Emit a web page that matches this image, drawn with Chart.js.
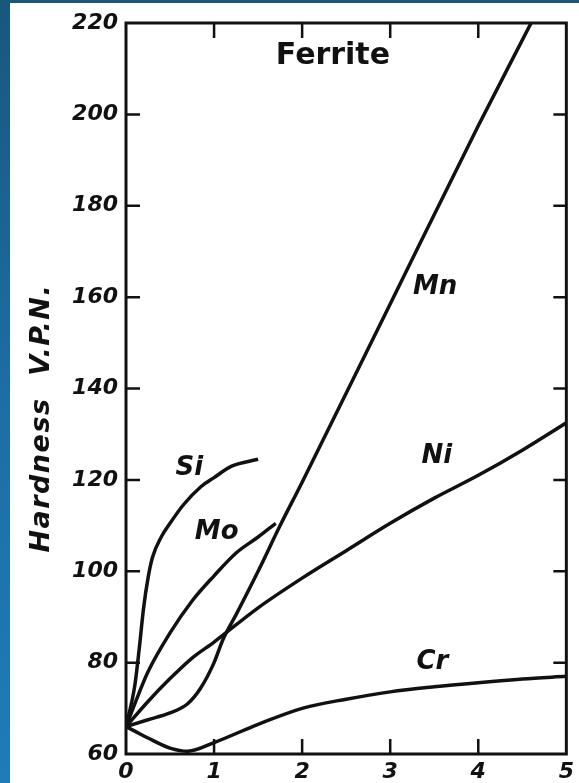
<!DOCTYPE html>
<html>
<head>
<meta charset="utf-8">
<script src="https://cdn.jsdelivr.net/npm/chart.js@4.4.1/dist/chart.umd.min.js"></script>
<style>
  html, body { margin: 0; padding: 0; }
  body {
    width: 579px; height: 783px; overflow: hidden; position: relative;
    background: linear-gradient(180deg, #19577c 0%, #1d6ea3 50%, #1f7cb7 100%);
  }
  #paper { position: absolute; left: 10px; top: 3px; right: 0; bottom: 0; background: #fff; }
  #c { position: absolute; left: 0; top: 0; }
</style>
</head>
<body>
<div id="paper"></div>
<canvas id="c" width="579" height="783"></canvas>
<script>
// alloy content, wt % (x) and hardness V.P.N. (y)
const siPct = [0, 0.1, 0.15, 0.2, 0.25, 0.3, 0.4, 0.5, 0.65, 0.85, 1.0, 1.2, 1.5];
const siHv  = [66, 75, 83, 92, 98.5, 103, 107.5, 110.5, 114.5, 118.5, 120.5, 123, 124.5];

const moPct = [0, 0.1, 0.25, 0.5, 0.75, 1.0, 1.25, 1.5, 1.7];
const moHv  = [66, 71, 78, 86.5, 93.5, 99, 104, 107.5, 110.5];

const mnPct = [0, 0.25, 0.5, 0.7, 0.85, 1.0, 1.1, 1.25, 1.5, 1.75, 2, 3, 4, 4.6];
const mnHv  = [66, 67.5, 69, 71, 74.5, 80, 85, 90.5, 100, 110, 119.5, 158.5, 197.5, 220];

const niPct = [0, 0.25, 0.5, 0.75, 1, 1.5, 2, 2.5, 3, 3.5, 4, 4.5, 5];
const niHv  = [66, 71.5, 76.5, 81, 84.5, 92, 98.5, 104.5, 110.5, 116, 121, 126.5, 132.5];

const crPct = [0, 0.1, 0.25, 0.5, 0.7, 1, 1.5, 2, 2.5, 3, 3.5, 4, 4.5, 5];
const crHv  = [66, 65, 63.5, 61.3, 60.6, 62.5, 66.5, 70, 72, 73.6, 74.7, 75.6, 76.4, 77];

const xTicks = ['0', '1', '2', '3', '4', '5'];
const yTicks = ['60', '80', '100', '120', '140', '160', '180', '200', '220'];

// text written on the plot, anchored in data units
const curveNames = ['Si', 'Mo', 'Mn', 'Ni', 'Cr'];
const nameAt = [[0.72, 122.6], [1.03, 108.6], [3.51, 162.2], [3.53, 125.2], [3.48, 80.1]];

const INK = '#111';

function pts(xs, ys) {
  return xs.map((v, i) => ({ x: v, y: ys[i] }));
}

function curve(label, xs, ys) {
  return {
    label: label,
    data: pts(xs, ys),
    showLine: true,
    borderColor: INK,
    borderWidth: 3.5,
    pointRadius: 0,
    fill: false,
    cubicInterpolationMode: 'monotone'
  };
}

// box round the plot, inward ticks, and the written labels
const paperPlugin = {
  id: 'paper',
  afterDraw(chart) {
    const { ctx, chartArea: a, scales } = chart;
    const sx = scales.x, sy = scales.y;
    ctx.save();
    ctx.strokeStyle = INK;
    ctx.lineWidth = 3;
    ctx.strokeRect(a.left, a.top, a.right - a.left, a.bottom - a.top);

    ctx.lineWidth = 2.5;
    ctx.beginPath();
    xTicks.forEach(t => {
      const v = Number(t);
      if (v <= sx.min || v >= sx.max) return;
      const px = sx.getPixelForValue(v);
      ctx.moveTo(px, a.bottom); ctx.lineTo(px, a.bottom - 15);
      ctx.moveTo(px, a.top); ctx.lineTo(px, a.top + 15);
    });
    yTicks.forEach(t => {
      const v = Number(t);
      if (v <= sy.min || v >= sy.max) return;
      const py = sy.getPixelForValue(v);
      ctx.moveTo(a.left, py); ctx.lineTo(a.left + 14, py);
      ctx.moveTo(a.right, py); ctx.lineTo(a.right - 13, py);
    });
    ctx.stroke();

    ctx.fillStyle = INK;
    ctx.textAlign = 'center';
    ctx.textBaseline = 'middle';

    ctx.font = 'bold 30px "DejaVu Sans"';
    ctx.fillText('Ferrite', sx.getPixelForValue(2.35), sy.getPixelForValue(212.7));

    ctx.font = 'italic bold 26px "DejaVu Sans"';
    curveNames.forEach((n, i) => {
      ctx.fillText(n, sx.getPixelForValue(nameAt[i][0]), sy.getPixelForValue(nameAt[i][1]));
    });

    // axis title
    ctx.translate(a.left - 84, sy.getPixelForValue(133.5));
    ctx.rotate(-Math.PI / 2);
    ctx.font = 'italic bold 27px "DejaVu Sans"';
    ctx.letterSpacing = '1.5px';
    ctx.fillText('Hardness  V.P.N.', 0, 0);
    ctx.restore();
  }
};

const tickFont = { family: 'DejaVu Sans', size: 22, style: 'italic', weight: 'bold' };

new Chart(document.getElementById('c'), {
  type: 'scatter',
  data: {
    datasets: [
      curve('Si', siPct, siHv),
      curve('Mo', moPct, moHv),
      curve('Mn', mnPct, mnHv),
      curve('Ni', niPct, niHv),
      curve('Cr', crPct, crHv)
    ]
  },
  options: {
    responsive: false,
    animation: false,
    layout: { padding: { left: 0, right: 11, top: 23, bottom: 0 } },
    plugins: {
      legend: { display: false },
      tooltip: { enabled: false }
    },
    scales: {
      x: {
        type: 'linear',
        min: 0, max: 5,
        grid: { display: false, drawTicks: false },
        border: { display: false },
        ticks: {
          stepSize: 1,
          padding: 5,
          color: INK,
          font: tickFont,
          callback: (v) => xTicks.includes(String(v)) ? String(v) : ''
        },
        afterFit: (s) => { s.height = 29; }
      },
      y: {
        type: 'linear',
        min: 60, max: 220,
        grid: { display: false, drawTicks: false },
        border: { display: false },
        ticks: {
          stepSize: 20,
          padding: 8,
          color: INK,
          font: tickFont,
          callback: (v) => yTicks.includes(String(v)) ? String(v) : ''
        },
        afterFit: (s) => { s.width = 126; }
      }
    }
  },
  plugins: [paperPlugin]
});
</script>
</body>
</html>
